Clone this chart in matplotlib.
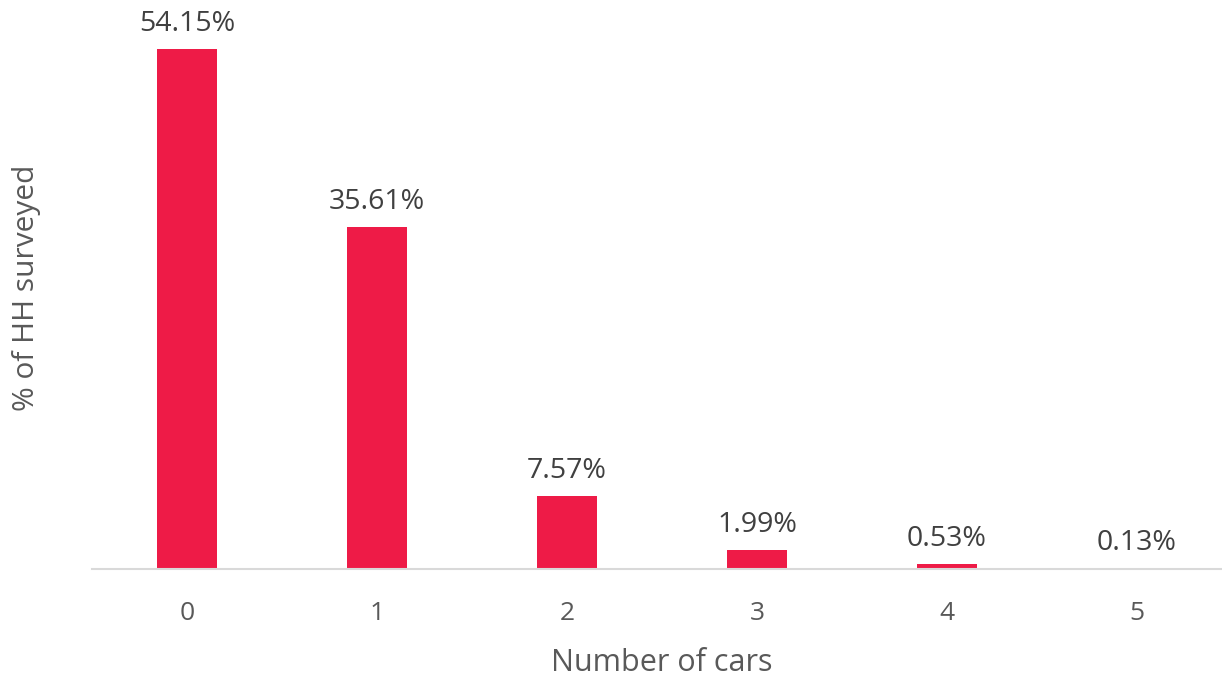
"""Bar chart: share of surveyed households by number of cars."""

import matplotlib

matplotlib.use("Agg")
import matplotlib.pyplot as plt

plt.rcParams["font.family"] = ["Open Sans", "DejaVu Sans"]

categories = ["0", "1", "2", "3", "4", "5"]
shares = [54.15, 35.61, 7.57, 1.99, 0.53, 0.13]
labels = ["54.15%", "35.61%", "7.57%", "1.99%", "0.53%", "0.13%"]

BAR_COLOR = "#EE1B47"
TEXT_COLOR = "#595959"

fig = plt.figure(figsize=(12.22, 6.77), dpi=100)
ax = fig.add_axes([92 / 1222, 108 / 677, 1140 / 1222, 569 / 677])

positions = range(len(categories))
ax.bar(positions, shares, width=0.316, color=BAR_COLOR)
for x, y, text in zip(positions, shares, labels):
    ax.annotate(text, (x, y), xytext=(0, 8), textcoords="offset points",
                ha="center", va="bottom", fontsize=20.5, color="#404040")

ax.set_xlim(-0.5, 5.5)
ax.set_ylim(0, 59.3)
ax.set_xticks(list(positions))
ax.set_xticklabels(categories, fontsize=19, color=TEXT_COLOR)
ax.tick_params(axis="x", length=0, pad=23)
ax.set_yticks([])
for side in ("top", "right", "left"):
    ax.spines[side].set_visible(False)
ax.spines["bottom"].set_color("#D9D9D9")
ax.spines["bottom"].set_linewidth(1.5)

ax.set_xlabel("Number of cars", fontsize=22, color=TEXT_COLOR, labelpad=16)
fig.text(27 / 1222, 1 - 288 / 677, "% of HH surveyed", rotation=90,
         ha="center", va="center", fontsize=21.5, color=TEXT_COLOR)

fig.savefig("out.png", dpi=100)
plt.close(fig)
